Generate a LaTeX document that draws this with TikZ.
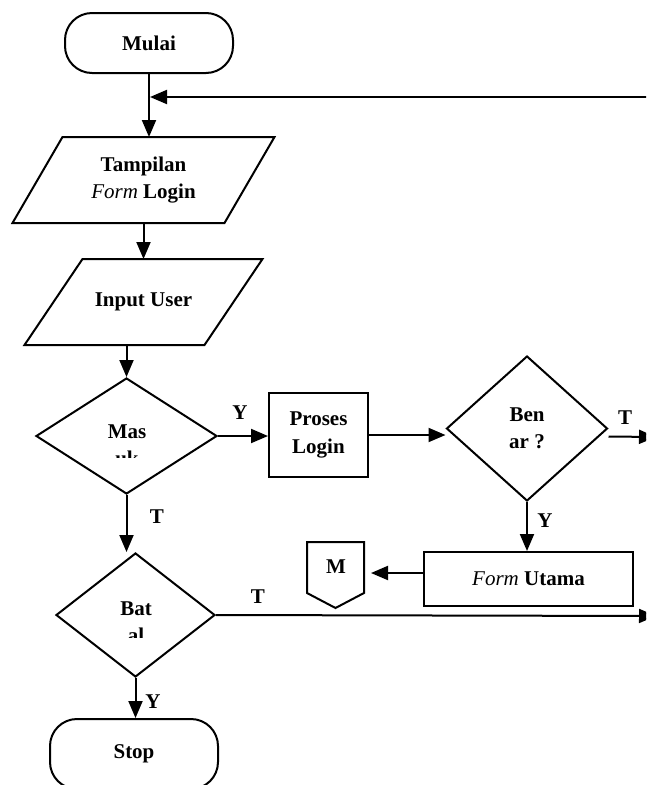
\documentclass[tikz,border=0pt]{standalone}
\usepackage{fontspec}
\setmainfont{Liberation Serif}
\usetikzlibrary{shapes.geometric,arrows.meta}
\newcommand\chartfont{\fontsize{21}{27.5}\selectfont\bfseries}
\newcommand\formword{\textnormal{\itshape Form}}
\begin{document}
\begin{tikzpicture}[x=1pt,y=-1pt,
  line width=2pt,
  every node/.style={font=\chartfont, inner sep=0pt},
  term/.style={draw, rectangle, rounded corners=27pt, minimum width=168pt, minimum height=60pt},
  proc/.style={draw, rectangle, align=center},
  cond/.style={draw, diamond, inner sep=0pt, align=center},
  flow/.style={-{Triangle[length=17pt,width=14pt]}},
]
\path[use as bounding box, clip] (0,0) rectangle (646,785);

% start
\node[term] (mulai) at (149,43) {Mulai};

% login form display (parallelogram)
\node[minimum width=210pt, minimum height=84pt, align=center] (tamp) at (143.5,180) {Tampilan\\\formword{} Login};
\draw ([xshift=25pt]tamp.north west) -- ([xshift=25pt]tamp.north east)
   -- ([xshift=-25pt]tamp.south east) -- ([xshift=-25pt]tamp.south west) -- cycle;

% user input (parallelogram)
\node[minimum width=178pt, minimum height=84pt] (inp) at (143.5,302) {Input User};
\draw ([xshift=29pt]inp.north west) -- ([xshift=29pt]inp.north east)
   -- ([xshift=-29pt]inp.south east) -- ([xshift=-29pt]inp.south west) -- cycle;

% decision: Masuk
\node[cond, minimum width=181pt, minimum height=116pt] (mas) at (126.5,436) {};
\begin{scope}
  \clip (0,0) rectangle (646,457);
  \node[anchor=base] (masA) at (127,438) {Mas};
  \node[anchor=base] (masB) at (127,465) {uk};
\end{scope}

% login process
\node[proc, minimum width=99pt, minimum height=84pt] (proses) at (318.5,435) {Proses\\Login};

% decision: Benar
\node[cond, minimum width=161pt, minimum height=145pt] (ben) at (527,428.5) {Ben\\ar ?};

% main form
\node[proc, minimum width=209pt, minimum height=54pt] (utama) at (528.5,579) {\formword{} Utama};

% off-page connector M
\node[minimum width=55pt, minimum height=64pt] (m) at (335.5,575) {};
\draw (m.north west) -- (m.north east) -- ([yshift=15pt]m.south east)
   -- (m.south) -- ([yshift=15pt]m.south west) -- cycle;
\node (mlabel) at (336,567) {M};

% decision: Batal
\node[cond, minimum width=159pt, minimum height=124pt] (bat) at (135.5,615) {};
\begin{scope}
  \clip (0,0) rectangle (646,637);
  \node[anchor=base] (batA) at (136,615) {Bat};
  \node[anchor=base] (batB) at (136,642) {al};
\end{scope}

% end
\node[term, minimum height=70pt] (stop) at (134,754) {Stop};

% connectors
\coordinate (fb) at (650,97);
\coordinate (tout) at (656,437);
\coordinate (bout) at (656,616);

\draw[flow] (mulai.south) -- (mulai.south |- tamp.north);
\draw[flow, shorten >=1pt] (fb) -- (fb -| mulai.south);
\draw[flow] (tamp.south) -- (inp.north);
\draw[flow] (mas.north |- inp.south) -- (mas.north);
\draw[flow] (mas.east) -- (mas.east -| proses.west);
\node (ylab1) at (240,413) {Y};
\draw[flow] (proses.east) -- (proses.east -| ben.west);
\draw[flow] ([yshift=-8pt]ben.east) -- (tout);
\node (tlab1) at (625,418) {T};
\draw[flow] (ben.south) -- (ben.south |- utama.north);
\node (ylab2) at (545,521) {Y};
\draw[flow, shorten >=7pt] ([yshift=6pt]utama.west) -- ([yshift=6pt]utama.west -| m.east);
\draw[flow] (mas.south) -- (mas.south |- bat.north);
\node (tlab2) at (157,517) {T};
\draw[flow] (bat.east) -- (bout);
\node (tlab3) at (258,597) {T};
\draw[flow] (bat.south) -- (bat.south |- stop.north);
\node (ylab3) at (153,702) {Y};
\end{tikzpicture}
\end{document}
